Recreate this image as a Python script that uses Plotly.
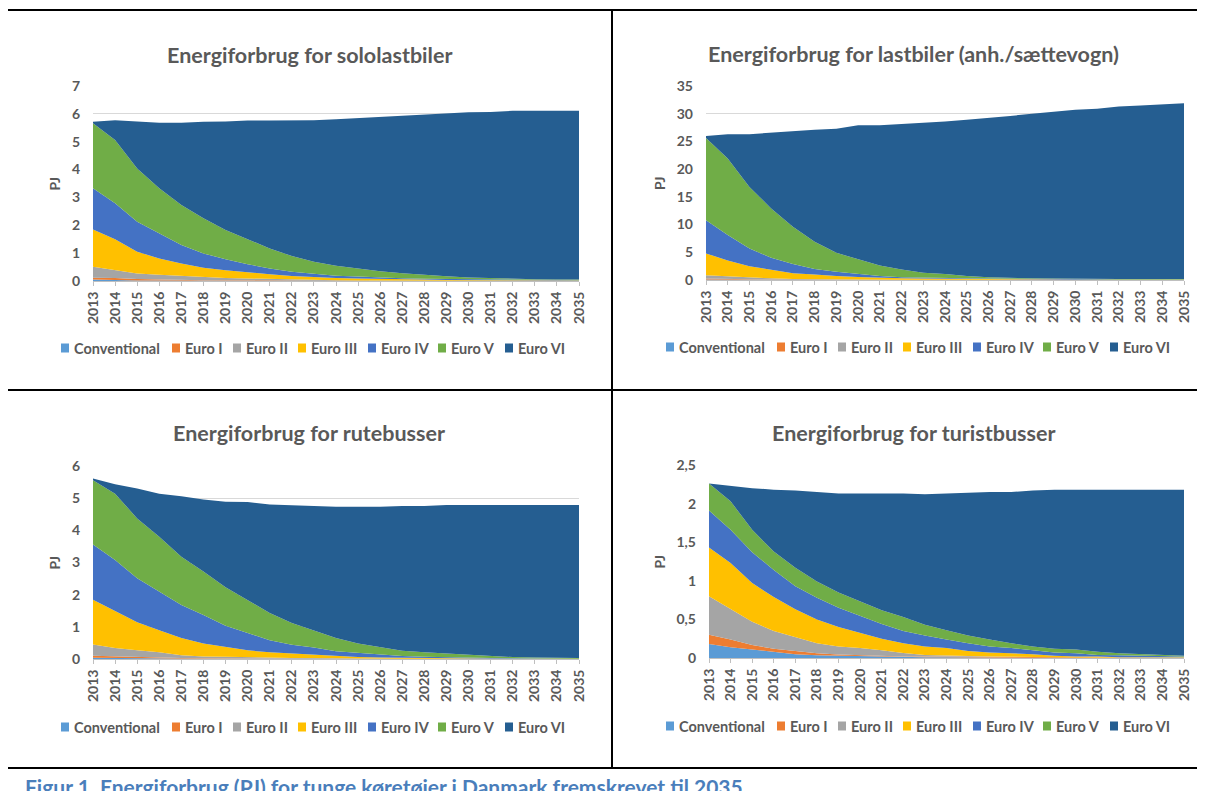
import plotly.graph_objects as go

years = list(range(2013, 2036))
series_names = ["Conventional", "Euro I", "Euro II", "Euro III", "Euro IV", "Euro V", "Euro VI"]
series_colors = ["#5B9BD5", "#ED7D31", "#A5A5A5", "#FFC000", "#4472C4", "#70AD47", "#255E91"]

titles = ["Energiforbrug for sololastbiler", "Energiforbrug for lastbiler (anh./sættevogn)",
          "Energiforbrug for rutebusser", "Energiforbrug for turistbusser"]

# Chart 1: sololastbiler (PJ)
solo_conv = [0.05,0.03,0.02,0.02,0.01,0.01,0.01,0.01,0.01,0,0,0,0,0,0,0,0,0,0,0,0,0,0]
solo_e1 = [0.07,0.08,0.05,0.03,0.03,0.02,0.02,0.01,0.01,0.01,0.01,0.01,0,0,0,0,0,0,0,0,0,0,0]
solo_e2 = [0.39,0.28,0.20,0.17,0.14,0.11,0.08,0.07,0.05,0.04,0.03,0.02,0.02,0.02,0.02,0.01,0.01,0.01,0.01,0.01,0.01,0.01,0.01]
solo_e3 = [1.34,1.11,0.78,0.59,0.45,0.34,0.28,0.22,0.17,0.13,0.10,0.08,0.07,0.05,0.04,0.04,0.03,0.03,0.02,0.02,0.01,0.01,0.01]
solo_e4 = [1.48,1.29,1.08,0.90,0.66,0.51,0.39,0.29,0.21,0.15,0.11,0.08,0.07,0.05,0.04,0.03,0.03,0.02,0.02,0.01,0.01,0.01,0.01]
solo_e5 = [2.33,2.27,1.91,1.62,1.44,1.26,1.05,0.90,0.72,0.57,0.44,0.36,0.28,0.23,0.18,0.14,0.10,0.07,0.05,0.04,0.03,0.02,0.02]
solo_e6 = [0.06,0.71,1.69,2.35,2.95,3.47,3.90,4.26,4.59,4.87,5.08,5.26,5.41,5.54,5.65,5.75,5.84,5.93,5.97,6.03,6.05,6.06,6.06]

# Chart 2: lastbiler (anh./saettevogn)
last_conv = [0.10,0.05,0.04,0.03,0.02,0.02,0.01,0.01,0.01,0,0,0,0,0,0,0,0,0,0,0,0,0,0]
last_e1 = [0.15,0.10,0.06,0.05,0.04,0.03,0.03,0.02,0.01,0.02,0.01,0.01,0,0,0,0,0,0,0,0,0,0,0]
last_e2 = [0.60,0.50,0.35,0.22,0.14,0.10,0.06,0.05,0.04,0.03,0.03,0.02,0.03,0.02,0.02,0.02,0.01,0.01,0.01,0.01,0.01,0.01,0.01]
last_e3 = [3.95,2.85,2.05,1.60,1.00,0.85,0.60,0.47,0.34,0.25,0.21,0.17,0.12,0.10,0.08,0.06,0.06,0.05,0.04,0.04,0.03,0.03,0.03]
last_e4 = [6.0,4.6,3.2,2.1,1.7,1.0,0.8,0.55,0.3,0.2,0.15,0.15,0.15,0.13,0.1,0.1,0.09,0.08,0.07,0.06,0.06,0.06,0.06]
last_e5 = [14.8,13.8,11.1,8.9,6.7,4.9,3.4,2.6,1.9,1.4,0.9,0.75,0.4,0.25,0.15,0.12,0.12,0.08,0.08,0.09,0.08,0.08,0.08]
last_e6 = [0.4,4.4,9.5,13.7,17.2,20.2,22.4,24.2,25.3,26.2,27.0,27.5,28.2,28.7,29.25,29.7,30.12,30.48,30.7,31.1,31.32,31.52,31.72]

# Chart 3: rutebusser
rute_conv = [0.04,0.03,0.02,0.02,0.01,0.01,0.01,0.01,0.01,0,0,0,0,0,0,0,0,0,0,0,0,0,0]
rute_e1 = [0.06,0.05,0.03,0.02,0.02,0.01,0.01,0.01,0,0.01,0.01,0,0,0,0,0,0,0,0,0,0,0,0]
rute_e2 = [0.35,0.26,0.22,0.17,0.09,0.06,0.05,0.03,0.03,0.02,0.02,0.02,0.02,0.01,0.01,0.01,0.01,0.01,0,0,0,0,0]
rute_e3 = [1.39,1.14,0.87,0.68,0.53,0.40,0.30,0.22,0.17,0.14,0.09,0.06,0.04,0.04,0.03,0.02,0.01,0.01,0.01,0.01,0.01,0.01,0.01]
rute_e4 = [1.72,1.60,1.37,1.21,1.03,0.89,0.66,0.54,0.37,0.27,0.24,0.16,0.13,0.07,0.05,0.04,0.03,0.02,0.02,0.01,0.01,0,0]
rute_e5 = [2.00,2.06,1.86,1.70,1.50,1.35,1.20,1.01,0.85,0.68,0.53,0.41,0.29,0.24,0.17,0.14,0.12,0.08,0.06,0.04,0.03,0.02,0.02]
rute_e6 = [0.05,0.29,0.93,1.34,1.88,2.24,2.66,3.06,3.37,3.65,3.87,4.08,4.25,4.37,4.50,4.55,4.62,4.67,4.70,4.73,4.74,4.76,4.76]

# Chart 4: turistbusser
turist_conv = [0.18,0.14,0.11,0.08,0.05,0.035,0.03,0.02,0.015,0.01,0.01,0.01,0.005,0.005,0,0,0,0,0,0,0,0,0]
turist_e1 = [0.12,0.10,0.06,0.04,0.04,0.025,0.015,0.015,0.015,0.01,0.01,0.008,0.006,0.005,0.004,0.003,0.002,0.002,0.001,0.001,0,0,0]
turist_e2 = [0.50,0.39,0.30,0.23,0.18,0.13,0.105,0.095,0.07,0.045,0.02,0.012,0.014,0.01,0.011,0.009,0.008,0.006,0.005,0.004,0.004,0.003,0.003]
turist_e3 = [0.63,0.60,0.50,0.44,0.36,0.31,0.25,0.19,0.15,0.125,0.11,0.10,0.065,0.05,0.045,0.038,0.02,0.012,0.014,0.005,0.006,0.007,0.007]
turist_e4 = [0.48,0.43,0.40,0.35,0.30,0.28,0.25,0.22,0.19,0.16,0.14,0.11,0.10,0.08,0.07,0.05,0.04,0.04,0.02,0.025,0.02,0.01,0.01]
turist_e5 = [0.35,0.37,0.29,0.24,0.24,0.21,0.20,0.19,0.18,0.18,0.14,0.12,0.10,0.09,0.06,0.05,0.05,0.05,0.04,0.025,0.02,0.015,0.01]
turist_e6 = [0.0,0.20,0.54,0.80,1.00,1.16,1.28,1.40,1.51,1.60,1.69,1.77,1.85,1.91,1.96,2.02,2.06,2.07,2.10,2.12,2.13,2.145,2.15]

chart_series = [
    [solo_conv, solo_e1, solo_e2, solo_e3, solo_e4, solo_e5, solo_e6],
    [last_conv, last_e1, last_e2, last_e3, last_e4, last_e5, last_e6],
    [rute_conv, rute_e1, rute_e2, rute_e3, rute_e4, rute_e5, rute_e6],
    [turist_conv, turist_e1, turist_e2, turist_e3, turist_e4, turist_e5, turist_e6],
]
y_max = [7, 35, 6, 2.5]
y_dtick = [1, 5, 1, 0.5]

# the page places the figure 8px in from the top-left corner (default body margin),
# so the figure is sized and positioned to fill the visible 1205x791 window
PAGE_OFF = 8
W, H = 1205 - PAGE_OFF, 791 - PAGE_OFF
def px(x): return (x - PAGE_OFF) / W
def py(y): return 1 - (y - PAGE_OFF) / H

# plot areas in window pixels: (left, right, top, bottom)
areas = [(93, 579, 86, 281), (706, 1184, 86, 280), (93, 579, 466, 659), (709, 1184, 465, 658)]
title_pos = [(309, 55), (913, 54), (309, 433), (914, 433)]
# legend: first swatch left x, centre y ; offsets of each swatch from the first
legend_pos = [(61, 348), (666, 347), (61, 727), (666, 726)]
legend_offsets = [0, 111, 172, 237, 307, 377, 444]
pj_x = [54, 659, 54, 659]

GREY = "#595959"
FONT = "Lato"

fig = go.Figure()
layout = dict(
    width=W, height=H, margin=dict(l=0, r=0, t=0, b=0, autoexpand=False),
    paper_bgcolor="white", plot_bgcolor="white",
    separators=", ", showlegend=False,
    font=dict(family=FONT, color=GREY),
)
annotations = []
shapes = []
for i in range(4):
    ax = "" if i == 0 else str(i + 1)
    for name, color, vals in zip(series_names, series_colors, chart_series[i]):
        fig.add_trace(go.Scatter(
            x=years, y=vals, name=name, mode="lines",
            line=dict(width=0, color=color), fillcolor=color,
            stackgroup=f"s{i}", xaxis=f"x{ax}", yaxis=f"y{ax}",
            hoverinfo="x+y+name", showlegend=False,
        ))
    l, r, t, b = areas[i]
    layout[f"xaxis{ax}"] = dict(
        domain=[px(l), px(r)], anchor=f"y{ax}", range=[2013, 2035],
        tickvals=years, ticktext=[str(y) for y in years], tickangle=-90,
        showgrid=False, zeroline=False, showline=True, linecolor="#BFBFBF", linewidth=1,
        ticks="outside", ticklen=4, tickcolor="#BFBFBF", automargin=False,
        tickfont=dict(family=FONT, size=14, color=GREY, weight="bold"),
    )
    layout[f"yaxis{ax}"] = dict(
        domain=[py(b), py(t)], anchor=f"x{ax}", range=[0, y_max[i]], dtick=y_dtick[i],
        showgrid=True, gridcolor="#D9D9D9", gridwidth=1, zeroline=False, showline=False,
        ticks="", ticklabelstandoff=12, automargin=False,
        tickfont=dict(family=FONT, size=14, color=GREY, weight="bold"),
    )
    # legend (swatch + label per series)
    lx, ly = legend_pos[i]
    for name, color, off in zip(series_names, series_colors, legend_offsets):
        x0 = lx + off
        shapes.append(dict(type="rect", xref="paper", yref="paper",
                           x0=px(x0), x1=px(x0 + 8), y0=py(ly + 4.5), y1=py(ly - 4.5),
                           fillcolor=color, line=dict(width=0)))
        annotations.append(dict(
            text=name, x=px(x0 + 11), y=py(ly), xref="paper", yref="paper",
            xanchor="left", yanchor="middle", showarrow=False,
            font=dict(family=FONT, size=14.5, color=GREY, weight="bold"),
        ))
    tx, ty = title_pos[i]
    annotations.append(dict(
        text=titles[i], x=px(tx), y=py(ty), xref="paper", yref="paper",
        xanchor="center", yanchor="middle", showarrow=False,
        font=dict(family=FONT, size=21.5, color=GREY, weight="bold"),
    ))
    annotations.append(dict(
        text="PJ", x=px(pj_x[i]), y=py((t + b) / 2), xref="paper", yref="paper",
        xanchor="center", yanchor="middle", showarrow=False, textangle=-90,
        font=dict(family=FONT, size=14, color=GREY, weight="bold"),
    ))

annotations.append(dict(
    text="Figur 1. Energiforbrug (PJ) for tunge køretøjer i Danmark fremskrevet til 2035.",
    x=px(23), y=py(786), xref="paper", yref="paper", xanchor="left", yanchor="middle",
    showarrow=False, font=dict(family=FONT, size=21, color="#4A7EBB", weight="bold"),
))

lw = 2
shapes += [
    dict(type="line", xref="paper", yref="paper", x0=px(7), x1=1, y0=py(10), y1=py(10), line=dict(color="black", width=lw)),
    dict(type="line", xref="paper", yref="paper", x0=px(7), x1=px(7), y0=py(10), y1=py(768), line=dict(color="black", width=lw)),
    dict(type="line", xref="paper", yref="paper", x0=px(7), x1=1, y0=py(768), y1=py(768), line=dict(color="black", width=lw)),
    dict(type="line", xref="paper", yref="paper", x0=px(7), x1=1, y0=py(390), y1=py(390), line=dict(color="black", width=lw)),
    dict(type="line", xref="paper", yref="paper", x0=px(612), x1=px(612), y0=py(10), y1=py(768), line=dict(color="black", width=lw)),
]
layout["annotations"] = annotations
layout["shapes"] = shapes
fig.update_layout(**layout)
fig.write_html("out.html")
